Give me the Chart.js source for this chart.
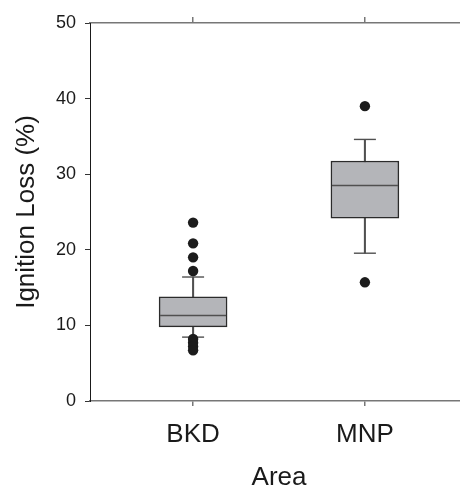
<!DOCTYPE html>
<html>
<head>
<meta charset="utf-8">
<script src="https://cdn.jsdelivr.net/npm/chart.js@4"></script>
<style>
    html, body { margin: 0; padding: 0; background: #fff; overflow: hidden; }
    #wrap { width: 470px; height: 500px; position: relative; }
</style>
</head>
<body>
<div id="wrap"><canvas id="chart"></canvas></div>
<script>
// Box plot data
const categories = ['BKD', 'MNP'];
const q1Values = [9.8, 24.2];
const medianValues = [11.3, 28.5];
const q3Values = [13.77, 31.75];
const whiskerLow = [8.45, 19.55];
const whiskerHigh = [16.4, 34.6];
const outliers = [
    [23.6, 20.85, 19.0, 17.2, 8.2, 7.7, 7.2, 6.7],
    [39.0, 15.7]
];
const yTicks = [0, 10, 20, 30, 40, 50];

const FONT = 'Liberation Sans, Arial, Helvetica, sans-serif';
const TEXT = '#1a1a1a';
const AXIS_GREY = '#777';
const BOX_LINE = '#505050';

// Build datasets from the arrays
const xPos = categories.map((c, i) => i + 1);

const whiskerData = xPos.map((x, i) => ({ x: x, y: [whiskerLow[i], whiskerHigh[i]] }));
const boxData = xPos.map((x, i) => ({ x: x, y: [q1Values[i], q3Values[i]] }));
const medianData = xPos.map((x, i) => ({ x: x, y: medianValues[i] }));
const capData = [];
xPos.forEach((x, i) => {
    capData.push({ x: x, y: whiskerLow[i] });
    capData.push({ x: x, y: whiskerHigh[i] });
});
const outlierData = [];
outliers.forEach((list, i) => {
    list.forEach(v => outlierData.push({ x: xPos[i], y: v }));
});

// keep the layout from adding label overflow padding
function noPadding(scale) {
    scale.paddingTop = 0;
    scale.paddingBottom = 0;
    scale.paddingLeft = 0;
    scale.paddingRight = 0;
}

new Chart(document.getElementById('chart'), {
    data: {
        datasets: [
            {
                type: 'bar',
                data: whiskerData,
                backgroundColor: BOX_LINE,
                barThickness: 1.4,
                grouped: false,
                order: 5
            },
            {
                type: 'bar',
                data: boxData,
                backgroundColor: '#b4b5b9',
                borderColor: '#2b2b2b',
                borderWidth: 1.5,
                borderSkipped: false,
                barThickness: 68,
                grouped: false,
                order: 4
            },
            {
                type: 'scatter',
                data: medianData,
                pointStyle: 'line',
                radius: 33,
                borderColor: BOX_LINE,
                borderWidth: 1.6,
                order: 3
            },
            {
                type: 'scatter',
                data: capData,
                pointStyle: 'line',
                radius: 11,
                borderColor: BOX_LINE,
                borderWidth: 1.4,
                order: 2
            },
            {
                type: 'scatter',
                data: outlierData,
                pointStyle: 'circle',
                radius: 5.2,
                backgroundColor: '#1c1c1c',
                borderWidth: 0,
                order: 1
            }
        ]
    },
    options: {
        responsive: true,
        maintainAspectRatio: false,
        animation: false,
        layout: {
            autoPadding: false,
            padding: { left: 0, right: 2, top: 0, bottom: 0 }
        },
        plugins: {
            legend: { display: false },
            tooltip: { enabled: false }
        },
        scales: {
            x: {
                type: 'linear',
                position: 'bottom',
                min: 0.4,
                max: 2.6,
                offset: false,
                afterBuildTicks: scale => {
                    scale.ticks = xPos.map(v => ({ value: v }));
                },
                afterFit: scale => {
                    scale.height = 99;
                    noPadding(scale);
                },
                grid: {
                    offset: false,
                    drawOnChartArea: false,
                    tickLength: 5,
                    color: AXIS_GREY,
                    lineWidth: 1.5
                },
                border: { color: AXIS_GREY, width: 1.5 },
                ticks: {
                    color: TEXT,
                    padding: 13,
                    font: { family: FONT, size: 26 },
                    callback: v => categories[v - 1] || ''
                },
                title: {
                    display: true,
                    text: 'Area',
                    color: TEXT,
                    font: { family: FONT, size: 26 },
                    padding: { top: 0, bottom: 7 }
                }
            },
            x2: {
                type: 'linear',
                position: 'top',
                min: 0.4,
                max: 2.6,
                offset: false,
                afterBuildTicks: scale => {
                    scale.ticks = xPos.map(v => ({ value: v }));
                },
                afterFit: scale => {
                    scale.height = 23;
                    noPadding(scale);
                },
                grid: {
                    offset: false,
                    drawOnChartArea: false,
                    tickLength: 6,
                    color: AXIS_GREY,
                    lineWidth: 1.5
                },
                border: { color: AXIS_GREY, width: 1.5 },
                ticks: { callback: () => '' }
            },
            y: {
                type: 'linear',
                position: 'left',
                min: 0,
                max: 50,
                afterBuildTicks: scale => {
                    scale.ticks = yTicks.map(v => ({ value: v }));
                },
                afterFit: scale => {
                    scale.width = 90;
                    noPadding(scale);
                },
                grid: {
                    drawOnChartArea: false,
                    tickLength: 5,
                    color: '#333',
                    lineWidth: 1
                },
                border: { color: '#1a1a1a', width: 1 },
                ticks: {
                    color: TEXT,
                    padding: 9,
                    font: { family: FONT, size: 18 }
                },
                title: {
                    display: true,
                    text: 'Ignition Loss (%)',
                    color: TEXT,
                    font: { family: FONT, size: 26 },
                    padding: { top: 11, bottom: 0 }
                }
            }
        }
    }
});
</script>
</body>
</html>
